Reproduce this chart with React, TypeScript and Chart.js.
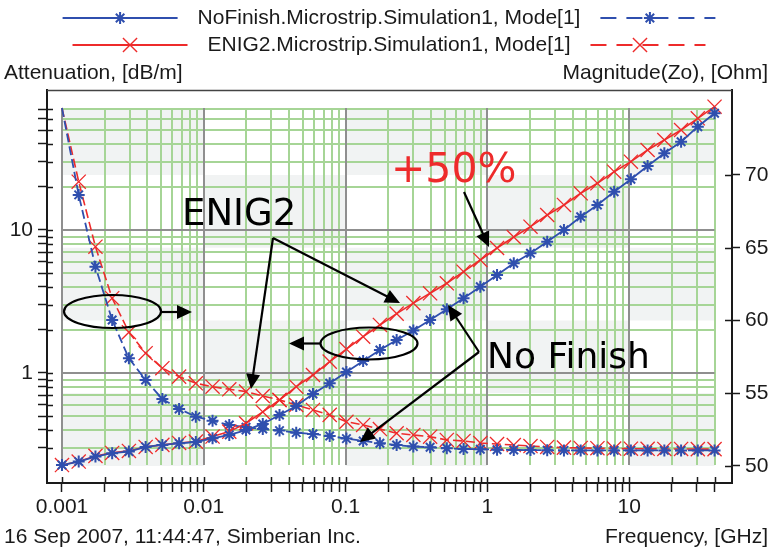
import React, { useEffect, useRef } from 'react';
import { Chart, registerables } from 'chart.js';

Chart.register(...registerables);

// ---------- data ----------
const freqGHz = [
  0.001, 0.001312, 0.001722, 0.002259, 0.002964, 0.00389, 0.005104, 0.006698, 0.008789, 0.01153,
  0.01513, 0.01986, 0.02606, 0.0342, 0.04487, 0.05888, 0.07727, 0.1014, 0.133, 0.1746,
  0.2291, 0.3006, 0.3945, 0.5176, 0.6792, 0.8913, 1.17, 1.535, 2.014, 2.642,
  3.467, 4.55, 5.97, 7.834, 10.28, 13.49, 17.7, 23.23, 30.48, 40,
];

const attNoFinish = [
  0.227, 0.24, 0.26, 0.275, 0.282, 0.304, 0.314, 0.322, 0.329, 0.349,
  0.369, 0.399, 0.44, 0.508, 0.588, 0.713, 0.847, 1.016, 1.213, 1.448,
  1.702, 1.982, 2.348, 2.79, 3.33, 4.013, 4.845, 5.849, 6.872, 8.284,
  10.0, 12.39, 14.96, 18.53, 22.62, 28.04, 34.39, 41.45, 52.77, 65.48,
];

const attENIG2 = [
  0.227, 0.24, 0.263, 0.276, 0.285, 0.304, 0.314, 0.324, 0.331, 0.359,
  0.389, 0.445, 0.534, 0.647, 0.802, 0.968, 1.2, 1.47, 1.794, 2.166,
  2.6, 3.08, 3.609, 4.24, 5.11, 6.17, 7.483, 8.933, 10.55, 12.73,
  14.96, 18.06, 21.21, 25.57, 30.04, 36.26, 42.6, 50.04, 60.4, 72.81,
];

const zoNoFinish = [
  74.6, 68.63, 63.7, 60.03, 57.4, 55.91, 54.6, 53.92, 53.39, 53.11,
  52.82, 52.66, 52.54, 52.43, 52.29, 52.2, 52.06, 51.88, 51.72, 51.56,
  51.44, 51.33, 51.29, 51.22, 51.17, 51.15, 51.12, 51.1, 51.09, 51.08,
  51.07, 51.07, 51.07, 51.07, 51.07, 51.07, 51.07, 51.07, 51.07, 51.07,
];

const zoENIG2 = [
  74.6, 69.54, 65.07, 61.53, 59.19, 57.75, 56.72, 56.14, 55.68, 55.45,
  55.27, 55.11, 54.81, 54.54, 54.19, 53.85, 53.51, 53.04, 52.82, 52.54,
  52.25, 52.13, 52.01, 51.79, 51.72, 51.58, 51.51, 51.44, 51.37, 51.31,
  51.26, 51.24, 51.22, 51.2, 51.19, 51.18, 51.17, 51.17, 51.16, 51.16,
];

const seriesNames = ['NoFinish.Microstrip.Simulation1, Mode[1]', 'ENIG2.Microstrip.Simulation1, Mode[1]'];

const xDecades = [0.001, 0.01, 0.1, 1, 10];
const xDecadeLabels = ['0.001', '0.01', '0.1', '1', '10'];
const yLDecades = [0.1, 1, 10];
const yLLabelValues = [1, 10];
const yRTicks = [50, 55, 60, 65, 70];

const leftTitle = 'Attenuation, [dB/m]';
const rightTitle = 'Magnitude(Zo), [Ohm]';
const bottomTitle = 'Frequency, [GHz]';
const footer = '16 Sep 2007, 11:44:47, Simberian Inc.';

// ---------- style ----------
const BLUE = '#2f4fae';
const RED = '#ee2b2b';
const GREEN = '#a6d596';
const DECADE_LINE = '#8f8f8f';
const SHADE = '#f1f3f3';
const INK = '#1a1a1a';
const FONT = '"Liberation Sans", Arial, sans-serif';
const ANN_FONT = '"DejaVu Sans", Verdana, sans-serif';

const fMax = freqGHz[freqGHz.length - 1];
// tick value lists (1..9 per decade, inside the data range)
const xTickValues: number[] = [];
xDecades.forEach((d) => { for (let m = 1; m <= 9; m++) { const v = +(d * m).toPrecision(6); if (v <= fMax) xTickValues.push(v); } });
const yLTickValues: number[] = [];
yLDecades.forEach((d) => { for (let m = 1; m <= 9; m++) { const v = +(d * m).toPrecision(6); if (v >= 0.3 && v <= 70) yLTickValues.push(v); } });

function drawStar(ctx: CanvasRenderingContext2D, x: number, y: number, r: number) {
  const d = r * Math.SQRT1_2;
  ctx.beginPath();
  ctx.moveTo(x - r, y); ctx.lineTo(x + r, y);
  ctx.moveTo(x, y - r); ctx.lineTo(x, y + r);
  ctx.moveTo(x - d, y - d); ctx.lineTo(x + d, y + d);
  ctx.moveTo(x - d, y + d); ctx.lineTo(x + d, y - d);
  ctx.stroke();
}
function drawX(ctx: CanvasRenderingContext2D, x: number, y: number, r: number) {
  const d = r * Math.SQRT1_2;
  ctx.beginPath();
  ctx.moveTo(x - d, y - d); ctx.lineTo(x + d, y + d);
  ctx.moveTo(x - d, y + d); ctx.lineTo(x + d, y - d);
  ctx.stroke();
}
function arrow(ctx: CanvasRenderingContext2D, x1: number, y1: number, x2: number, y2: number) {
  const a = Math.atan2(y2 - y1, x2 - x1);
  const L = 15, W = 7;
  const c = Math.cos(a), s = Math.sin(a);
  ctx.beginPath();
  ctx.moveTo(x1, y1);
  ctx.lineTo(x2 - L * 0.7 * c, y2 - L * 0.7 * s);
  ctx.stroke();
  ctx.beginPath();
  ctx.moveTo(x2, y2);
  ctx.lineTo(x2 - L * c + W * s, y2 - L * s - W * c);
  ctx.lineTo(x2 - L * c - W * s, y2 - L * s + W * c);
  ctx.closePath();
  ctx.fill();
}

const decor = {
  id: 'decor',
  beforeDatasetsDraw(chart: any) {
    const { ctx, scales } = chart;
    const x = scales.x, yL = scales.yL, yR = scales.yR;
    const left = x.getPixelForValue(freqGHz[0]);
    const right = x.getPixelForValue(fMax);
    const zoMax = Math.max(...zoNoFinish, ...zoENIG2);
    const top = yR.getPixelForValue(zoMax);
    const bottom = yL.getPixelForValue(Math.min(...attNoFinish, ...attENIG2));
    ctx.save();
    // checker shading
    const cols = [...xDecades, fMax].map((v) => x.getPixelForValue(v));
    const rows = [zoMax, ...yRTicks.slice().reverse()].map((v) => yR.getPixelForValue(v));
    ctx.fillStyle = SHADE;
    for (let r = 0; r < rows.length - 1; r++) {
      for (let c = 0; c < cols.length - 1; c++) {
        if ((r + c) % 2 === 0) ctx.fillRect(cols[c], rows[r], cols[c + 1] - cols[c], rows[r + 1] - rows[r]);
      }
    }
    // green minor grid
    ctx.strokeStyle = GREEN;
    ctx.lineWidth = 2;
    ctx.beginPath();
    xTickValues.forEach((v) => {
      if (xDecades.includes(v)) return;
      const px = Math.round(x.getPixelForValue(v));
      ctx.moveTo(px, top); ctx.lineTo(px, bottom);
    });
    yLTickValues.forEach((v) => {
      if (yLLabelValues.includes(v)) return;
      const py = Math.round(yL.getPixelForValue(v));
      ctx.moveTo(left, py); ctx.lineTo(right, py);
    });
    ctx.stroke();
    // decade lines
    ctx.strokeStyle = DECADE_LINE;
    ctx.beginPath();
    xDecades.forEach((v) => {
      const px = Math.round(x.getPixelForValue(v));
      ctx.moveTo(px, top); ctx.lineTo(px, bottom);
    });
    yLLabelValues.forEach((v) => {
      const py = Math.round(yL.getPixelForValue(v));
      ctx.moveTo(left, py); ctx.lineTo(right, py);
    });
    ctx.stroke();
    ctx.restore();
  },
  afterDatasetsDraw(chart: any) {
    const { ctx, chartArea, scales } = chart;
    const x = scales.x, yL = scales.yL, yR = scales.yR;
    ctx.save();
    // inner halves of the tick marks
    ctx.strokeStyle = INK;
    ctx.lineWidth = 1.5;
    ctx.beginPath();
    yLTickValues.forEach((v) => {
      const py = Math.round(yL.getPixelForValue(v)) + 0.5;
      ctx.moveTo(chartArea.left, py); ctx.lineTo(chartArea.left + 6, py);
    });
    xTickValues.forEach((v) => {
      const px = Math.round(x.getPixelForValue(v)) + 0.5;
      ctx.moveTo(px, chartArea.bottom); ctx.lineTo(px, chartArea.bottom - 6);
    });
    yRTicks.forEach((v) => {
      const py = Math.round(yR.getPixelForValue(v)) + 0.5;
      ctx.moveTo(chartArea.right, py); ctx.lineTo(chartArea.right - 7, py);
    });
    ctx.stroke();
    // top frame line
    ctx.strokeStyle = '#444';
    ctx.beginPath();
    ctx.moveTo(chartArea.left, chartArea.top + 0.5);
    ctx.lineTo(chartArea.right, chartArea.top + 0.5);
    ctx.stroke();

    // annotations
    ctx.strokeStyle = '#000';
    ctx.fillStyle = '#000';
    ctx.lineWidth = 2.2;
    ctx.beginPath();
    ctx.ellipse(112.5, 311.5, 48.5, 16.5, 0, 0, Math.PI * 2);
    ctx.stroke();
    arrow(ctx, 161, 312, 192, 312);
    ctx.beginPath();
    ctx.ellipse(369, 343.5, 48.5, 16, 0, 0, Math.PI * 2);
    ctx.stroke();
    arrow(ctx, 320.5, 343.5, 289, 343.5);
    arrow(ctx, 273, 238, 400, 303);
    arrow(ctx, 273, 238, 251, 389);
    arrow(ctx, 479, 352, 448, 305);
    arrow(ctx, 479, 352, 360, 442);
    arrow(ctx, 464, 192, 489, 247);

    ctx.textBaseline = 'alphabetic';
    ctx.textAlign = 'left';
    ctx.font = `37px ${ANN_FONT}`;
    ctx.fillText('ENIG2', 182, 225);
    ctx.font = `36px ${ANN_FONT}`;
    ctx.fillText('No Finish', 487, 368);
    ctx.fillStyle = RED;
    ctx.font = `41px ${ANN_FONT}`;
    ctx.fillText('+50%', 391, 182);
    ctx.restore();
  },
  afterDraw(chart: any) {
    const { ctx } = chart;
    ctx.save();
    ctx.font = `21px ${FONT}`;
    ctx.fillStyle = INK;
    ctx.textBaseline = 'middle';
    // legend rows
    const rows = [
      { color: BLUE, kind: 'star', y: 18, text: seriesNames[0] },
      { color: RED, kind: 'x', y: 45, text: seriesNames[1] },
    ];
    const sampleW = 115, gap = 20, cx = 389;
    rows.forEach((r) => {
      const tw = ctx.measureText(r.text).width;
      const total = sampleW * 2 + gap * 2 + tw;
      const x0 = cx - total / 2;
      const tx = x0 + sampleW + gap;
      const d0 = tx + tw + gap;
      ctx.strokeStyle = r.color;
      ctx.lineWidth = 2;
      ctx.setLineDash([]);
      ctx.beginPath(); ctx.moveTo(x0, r.y); ctx.lineTo(x0 + sampleW, r.y); ctx.stroke();
      ctx.setLineDash([16, 10]);
      ctx.beginPath(); ctx.moveTo(d0, r.y); ctx.lineTo(d0 + sampleW, r.y); ctx.stroke();
      ctx.setLineDash([]);
      ctx.lineWidth = r.kind === 'star' ? 2 : 1.4;
      if (r.kind === 'star') {
        drawStar(ctx, x0 + sampleW / 2, r.y, 6);
        drawStar(ctx, d0 + sampleW / 2 - 8, r.y, 6);
      } else {
        drawX(ctx, x0 + sampleW / 2, r.y, 10);
        drawX(ctx, d0 + sampleW / 2 - 8, r.y, 10);
      }
      ctx.fillStyle = INK;
      ctx.textAlign = 'left';
      ctx.fillText(r.text, tx, r.y);
    });
    // axis titles & footer
    ctx.textAlign = 'left';
    ctx.fillText(leftTitle, 4, 73);
    ctx.fillText(footer, 4, 537);
    ctx.textAlign = 'right';
    ctx.fillText(rightTitle, 768, 73);
    ctx.fillText(bottomTitle, 768, 537);
    ctx.restore();
  },
};

export default function App() {
  const ref = useRef<HTMLCanvasElement | null>(null);
  useEffect(() => {
    document.body.style.margin = '0';
    const canvas = ref.current;
    if (!canvas) return;
    const pts = (ys: number[]) => freqGHz.map((f, i) => ({ x: f, y: ys[i] }));
    // the first impedance point is drawn without a marker in the original
    const zoRadius = (r: number) => freqGHz.map((_, i) => (i === 0 ? 0 : r));
    const tickFont = { family: FONT, size: 21 };
    const chart = new Chart(canvas, {
      type: 'line',
      data: {
        datasets: [
          {
            label: seriesNames[0], data: pts(attNoFinish), yAxisID: 'yL',
            borderColor: BLUE, borderWidth: 1.8, pointStyle: 'star', pointRadius: 6,
            pointBorderColor: BLUE, pointBorderWidth: 2, pointBackgroundColor: BLUE, tension: 0,
          },
          {
            label: seriesNames[1], data: pts(attENIG2), yAxisID: 'yL',
            borderColor: RED, borderWidth: 1.6, pointStyle: 'crossRot', pointRadius: 10,
            pointBorderColor: RED, pointBorderWidth: 1.3, tension: 0,
          },
          {
            label: seriesNames[0] + ' Zo', data: pts(zoNoFinish), yAxisID: 'yR',
            borderColor: BLUE, borderWidth: 1.8, borderDash: [9, 4], pointStyle: 'star', pointRadius: zoRadius(6),
            pointBorderColor: BLUE, pointBorderWidth: 2, pointBackgroundColor: BLUE, tension: 0,
          },
          {
            label: seriesNames[1] + ' Zo', data: pts(zoENIG2), yAxisID: 'yR',
            borderColor: RED, borderWidth: 1.6, borderDash: [9, 4], pointStyle: 'crossRot', pointRadius: zoRadius(10),
            pointBorderColor: RED, pointBorderWidth: 1.3, tension: 0,
          },
        ],
      },
      options: {
        responsive: false,
        devicePixelRatio: 1,
        animation: false,
        events: [],
        layout: { padding: { left: 0, right: 0, top: 90, bottom: 0 } },
        plugins: { legend: { display: false }, tooltip: { enabled: false }, title: { display: false } },
        scales: {
          x: {
            type: 'logarithmic', position: 'bottom', min: 0.000784, max: 53.1, bounds: 'data',
            afterBuildTicks: (s: any) => { s.ticks = xTickValues.map((v) => ({ value: v })); },
            afterFit: (s: any) => { s.height = 65; },
            ticks: {
              autoSkip: false, maxRotation: 0, minRotation: 0, padding: 3, color: INK, font: tickFont,
              callback: (v: any) => { const i = xDecades.indexOf(Number(v)); return i >= 0 ? xDecadeLabels[i] : ''; },
            },
            grid: { display: true, drawOnChartArea: false, drawTicks: true, tickLength: 9, tickColor: INK, tickWidth: 1.5 },
            border: { display: true, color: INK, width: 2 },
          },
          yL: {
            type: 'logarithmic', position: 'left', min: 0.17, max: 95.3, bounds: 'data',
            afterBuildTicks: (s: any) => { s.ticks = yLTickValues.map((v) => ({ value: v })); },
            afterFit: (s: any) => { s.width = 47; },
            ticks: {
              autoSkip: false, padding: 5, color: INK, font: tickFont,
              callback: (v: any) => (yLLabelValues.includes(Number(v)) ? String(v) : ''),
            },
            grid: { display: true, drawOnChartArea: false, drawTicks: true, tickLength: 9, tickColor: INK, tickWidth: 1.5 },
            border: { display: true, color: INK, width: 2 },
          },
          yR: {
            type: 'linear', position: 'right', min: 48.83, max: 75.84, bounds: 'data',
            afterBuildTicks: (s: any) => { s.ticks = yRTicks.map((v) => ({ value: v })); },
            afterFit: (s: any) => { s.width = 39; },
            ticks: { autoSkip: false, padding: 5, color: INK, font: tickFont, callback: (v: any) => String(v) },
            grid: { display: true, drawOnChartArea: false, drawTicks: true, tickLength: 8, tickColor: INK, tickWidth: 1.5 },
            border: { display: true, color: INK, width: 2 },
          },
        },
      } as any,
      plugins: [decor],
    });
    return () => chart.destroy();
  }, []);
  return (
    <div style={{ position: 'fixed', left: 0, top: 0, width: 771, height: 548, background: '#fff' }}>
      <canvas ref={ref} width={771} height={548} style={{ display: 'block', width: 771, height: 548 }} />
    </div>
  );
}
